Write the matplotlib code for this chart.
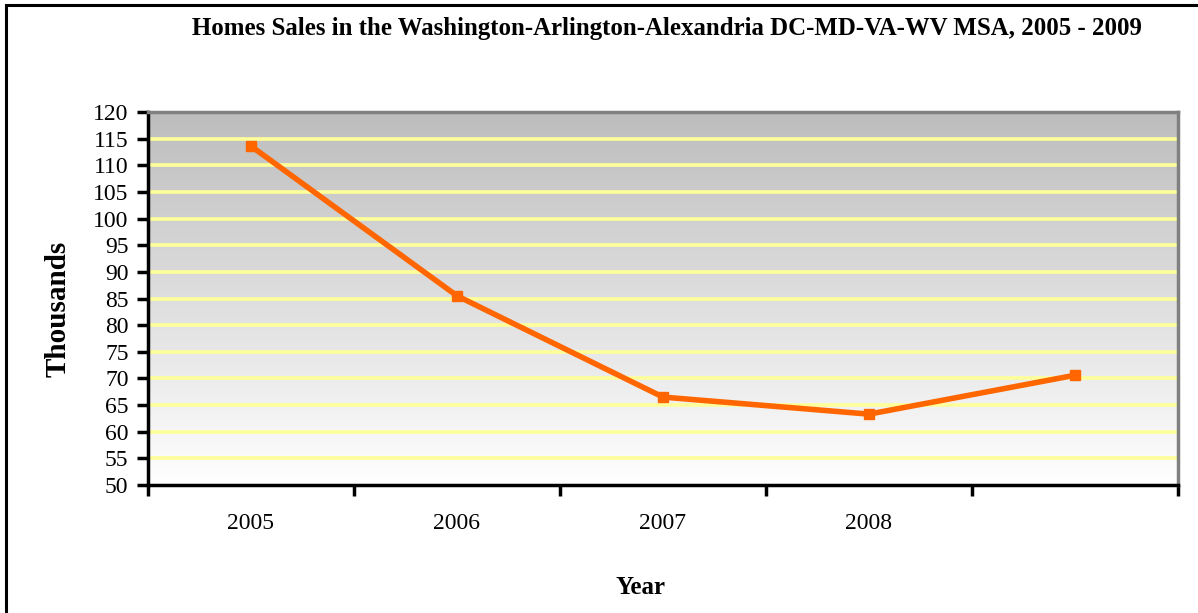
import numpy as np
import matplotlib.pyplot as plt
from matplotlib.colors import LinearSegmentedColormap
from matplotlib.patches import Rectangle

# Home sales (thousands)
years = ['2005', '2006', '2007', '2008', '2009']
tick_labels = ['2005', '2006', '2007', '2008', '']
sales = [113.6, 85.5, 66.5, 63.3, 70.6]

plt.rcParams['font.family'] = ['Liberation Serif', 'DejaVu Serif']

fig = plt.figure(figsize=(11.98, 6.13), dpi=100)
ax = fig.add_axes([148/1198, 1 - 485/613, 1030/1198, 373/613])

# outer chart frame (runs off the right and bottom edges)
fig.patches.append(Rectangle((6/1198, -0.1), 1.2, 1 - 5/613 + 0.1,
                             transform=fig.transFigure, fill=False,
                             edgecolor='black', linewidth=2.2, zorder=0))

x = np.arange(len(years))

# gradient plot area: grey at top fading to white
cmap = LinearSegmentedColormap.from_list('bg', ['#ffffff', '#bdbdbd'])
grad = np.linspace(0, 1, 256).reshape(-1, 1)
ax.imshow(grad, extent=[-0.5, 4.5, 50, 120], origin='lower', aspect='auto',
          cmap=cmap, zorder=0)

for yv in range(55, 120, 5):
    ax.axhline(yv, color='#ffff99', linewidth=2.6, zorder=1)

ax.plot(x, sales, color='#ff6600', linewidth=4, marker='s', markersize=7,
        zorder=3)

ax.set_xlim(-0.5, 4.5)
ax.set_ylim(50, 120)
ax.set_yticks(range(50, 121, 5))
ax.set_xticks(np.arange(-0.5, 5, 1))
ax.set_xticklabels([])
ax.set_xticks(x, labels=tick_labels, minor=True)
ax.tick_params(axis='x', which='minor', length=0, pad=20, labelsize=17)
ax.tick_params(axis='x', which='major', length=8, width=2.5, direction='out')
ax.tick_params(axis='y', length=8, width=2.5, direction='out', labelsize=17, pad=6)

for side in ['left', 'bottom']:
    ax.spines[side].set_linewidth(2.5)
    ax.spines[side].set_color('black')
for side in ['top', 'right']:
    ax.spines[side].set_linewidth(2.5)
    ax.spines[side].set_color('#808080')

fig.text(667/1198, 1 - 28/613, 'Homes Sales in the Washington-Arlington-Alexandria DC-MD-VA-WV MSA, 2005 - 2009',
         ha='center', va='center', fontsize=17.9, fontweight='bold')
fig.text(58/1198, 1 - 309/613, 'Thousands', rotation=90, ha='center', va='center',
         fontsize=21, fontweight='bold')
fig.text(641/1198, 1 - 588/613, 'Year', ha='center', va='center',
         fontsize=18, fontweight='bold')

fig.savefig('out.png', dpi=100)
